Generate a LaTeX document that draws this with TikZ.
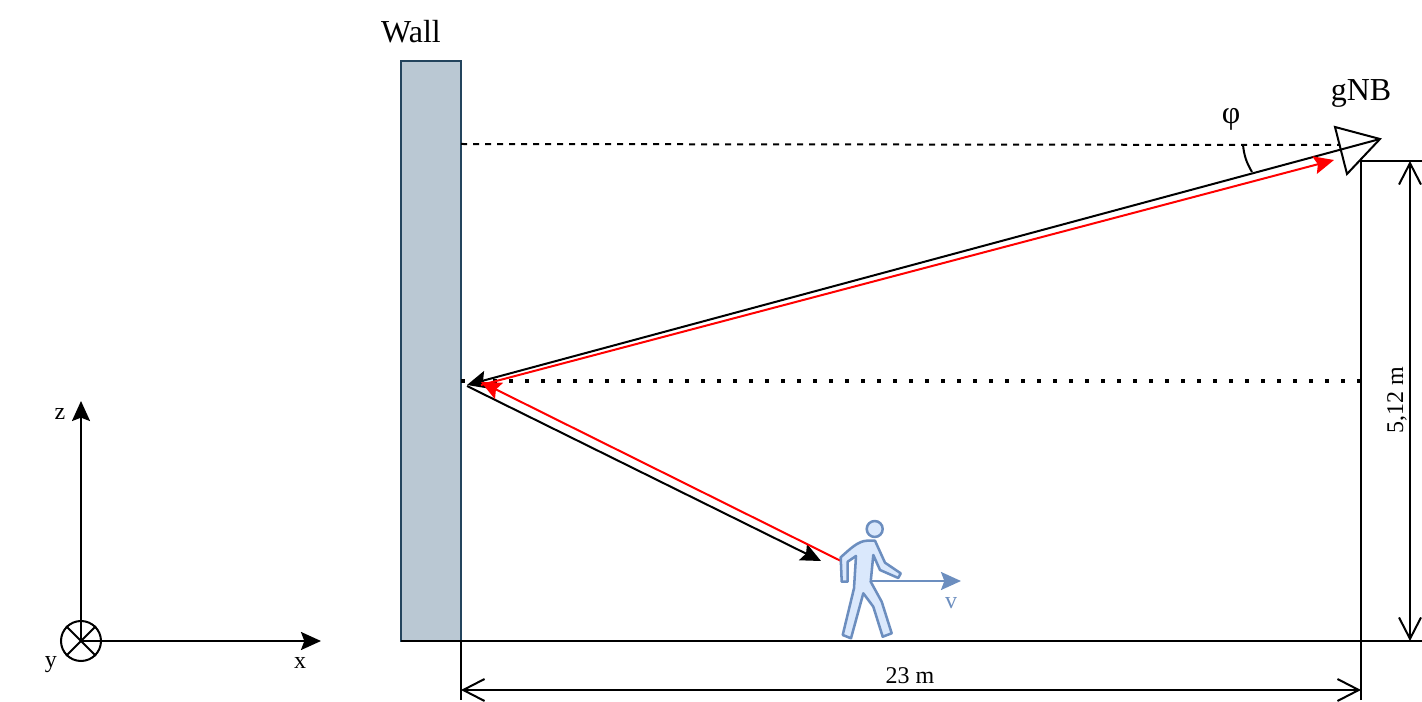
\documentclass[tikz,border=0pt]{standalone}
\usepackage{fontspec}
\setmainfont{Liberation Serif}
\usetikzlibrary{arrows.meta,shapes.geometric,positioning}
\definecolor{wallfill}{HTML}{BAC8D3}
\definecolor{walldraw}{HTML}{23445D}
\definecolor{manfill}{HTML}{DAE8FC}
\definecolor{mandraw}{HTML}{6C8EBF}
\tikzset{
 px/.style
  = {x=0.75pt, y=-0.75pt, line width=1.5pt},
 wallbox/.style
  = {rectangle, draw=walldraw, fill=wallfill, minimum width=45pt, minimum height=435pt, inner sep=0pt},
 big/.style
  = {inner sep=0pt, font=\fontsize{24pt}{26pt}\selectfont},
 lab/.style
  = {inner sep=0pt, font=\fontsize{18pt}{20pt}\selectfont},
 ray/.style
  = {-{Stealth[length=15pt, width=13.5pt, inset=2.5pt]}},
 dim/.style
  = {{Straight Barb[length=16pt, width=16.5pt]}-{Straight Barb[length=16pt, width=16.5pt]}},
 man/.style
  = {draw=mandraw, fill=manfill, line width=1.9pt, line join=round},
}
\begin{document}
\begin{tikzpicture}[px]
    \useasboundingbox (0,0) rectangle (1422,702);

    % wall and ground
    \node [wallbox] (wall) at (431,351) {};
    \node [big] (walltext) at (411,32) {Wall};
    \coordinate (baseL) at (401,641);
    \coordinate (baseR) at (1422,641);
    \draw (baseL) -- (baseR);

    % axes
    \coordinate (origin) at (81,641);
    \coordinate (zend) at (81,401);
    \coordinate (xend) at (321,641);
    \node [circle, draw, minimum size=30pt, inner sep=0pt] (yaxis) at (origin) {};
    \draw [ray] (origin) -- (zend);
    \draw [ray] (origin) -- (xend);
    \draw (yaxis.north west) -- (yaxis.south east);
    \draw (yaxis.north east) -- (yaxis.south west);
    \node [lab] (ztext) at (60,414) {z};
    \node [lab] (xtext) at (300,663) {x};
    \node [lab] (ytext) at (51,665) {y};

    % gNB
    \coordinate (gnbA) at (1335,127);
    \coordinate (gnb) at (1380,139);
    \coordinate (gnbC) at (1347,174);
    \draw [fill=white, line join=miter] (gnbA) -- (gnb) -- (gnbC) -- cycle;
    \node [big] (gnbtext) at (1361,93) {gNB};

    % reference lines
    \coordinate (dashL) at (461,144);
    \coordinate (dashR) at (1340,145);
    \coordinate (dotL) at (461,381);
    \coordinate (dotR) at (1361,381);
    \draw [dash pattern=on 4.5pt off 4.5pt] (dashL) -- (dashR);
    \draw [dash pattern=on 3pt off 9pt, line width=3pt] (dotL) -- (dotR);

    % rays
    \coordinate (bounceA) at (467,385);
    \coordinate (bounceB) at (467,386);
    \coordinate (userA) at (821,561);
    \coordinate (redS) at (841,561);
    \coordinate (redB) at (481,382);
    \coordinate (redC) at (481,385);
    \coordinate (redD) at (1334,160);
    \draw [ray] (gnb) -- (bounceA);
    \draw [ray] (bounceB) -- (userA);
    \draw [ray, red] (redS) -- (redB);
    \draw [ray, red] (redC) -- (redD);

    % angle
    \coordinate (phiA) at (1243,145);
    \coordinate (phiB) at (1252,172);
    \draw (phiA) to [bend right=12] (phiB);
    \node [big] (phitext) at (1231,119) {φ};

    % user
    \node [circle, man, minimum size=12pt, inner sep=0pt] (head) at (874.7,529) {};
    \draw [man] (840.7,557.3) .. controls (850,549) and (858,541) .. (867,540.7) -- (875,540.7)
      -- (885,562.7) -- (900.7,573.3) -- (898.3,578) -- (880,570) -- (873.3,555) -- (870.7,581.7)
      -- (881.7,601.7) -- (891.7,633.3) -- (882.7,636.7) -- (873.3,606.7) -- (863.3,593.3)
      -- (851,638.3) -- (842.7,635) -- (854,588.3) -- (856,556) -- (847.7,561.7) -- (847.7,581.7)
      -- (841.7,581.7) -- cycle;
    \coordinate (vS) at (870.7,581);
    \coordinate (vE) at (961,581);
    \draw [ray, mandraw] (vS) -- (vE);
    \node [lab, text=mandraw] (vtext) at (951,603) {v};

    % dimensions
    \coordinate (hL) at (461,690);
    \coordinate (hR) at (1361,690);
    \coordinate (vT) at (1410,161);
    \coordinate (vB) at (1410,641);
    \draw (461,641) -- (461,700);
    \draw (1361,700) -- (1361,161) -- (1422,161);
    \draw [dim] (hL) -- (hR);
    \draw [dim] (vT) -- (vB);
    \node [lab] (htext) at (910,676) {23 m};
    \node [lab, rotate=90] (vtext2) at (1397,400) {5,12 m};
\end{tikzpicture}
\end{document}
